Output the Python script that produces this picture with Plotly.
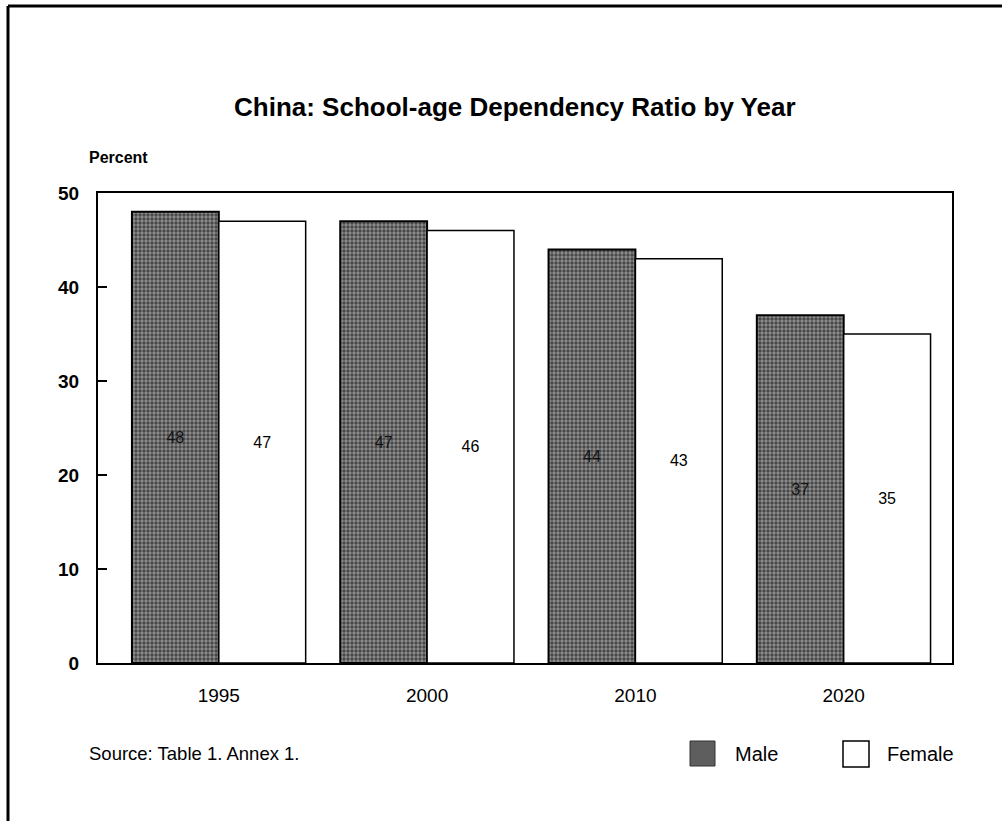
import plotly.graph_objects as go

# Data
years = ["1995", "2000", "2010", "2020"]
male = [48, 47, 44, 37]
female = [47, 46, 43, 35]
y_ticks = [0, 10, 20, 30, 40, 50]

W, H = 1002, 821
L, R, T, B = 98, 952, 193, 663  # plot area in pixels


def px(x):
    return (x - L) / (R - L)


def py(y):
    return (B - y) / (B - T)


pos = list(range(len(years)))
FONT = "Liberation Sans, Arial, sans-serif"

fig = go.Figure()
fig.add_trace(go.Bar(
    x=pos, y=male, name="Male",
    text=[str(v) for v in male],
    textposition="inside", insidetextanchor="middle",
    textfont=dict(size=16, color="#111", family=FONT),
    marker=dict(
        color="#6a6a6a",
        line=dict(color="black", width=2),
        pattern=dict(shape=".", size=4, solidity=0.55,
                     fgcolor="#000000", bgcolor="#909090"),
    ),
    showlegend=False,
))
fig.add_trace(go.Bar(
    x=pos, y=female, name="Female",
    text=[str(v) for v in female],
    textposition="inside", insidetextanchor="middle",
    textfont=dict(size=16, color="black", family=FONT),
    marker=dict(color="white", line=dict(color="black", width=1.5)),
    showlegend=False,
))

fig.update_layout(
    width=W, height=H,
    margin=dict(l=L, r=W - R, t=T, b=H - B),
    paper_bgcolor="white", plot_bgcolor="white",
    barmode="group", bargap=0.166, bargroupgap=0,
    font=dict(family=FONT, color="black"),
    uniformtext=dict(mode=False),
)
fig.update_xaxes(
    range=[-0.58, 3.52], tickvals=pos, ticktext=years,
    showgrid=False, zeroline=False,
    showline=True, linecolor="black", linewidth=2, mirror=True,
    ticks="", tickfont=dict(size=19, family=FONT),
    ticklabelstandoff=14,
)
fig.update_yaxes(
    range=[0, 50], tickvals=y_ticks,
    showgrid=False, zeroline=False,
    showline=True, linecolor="black", linewidth=2, mirror=True,
    ticks="inside", ticklen=9, tickwidth=2, tickcolor="black",
    tickfont=dict(size=19, family=FONT, weight="bold"),
    ticklabelstandoff=13,
)

annotations = [
    dict(text="<b>China: School-age Dependency Ratio by Year</b>",
         x=px(515), y=py(107), xanchor="center", yanchor="middle",
         font=dict(size=26, family=FONT)),
    dict(text="<b>Percent</b>", x=px(87), y=py(158), xanchor="left", yanchor="middle",
         font=dict(size=16)),
    dict(text="Source: Table 1. Annex 1.", x=px(87), y=py(753),
         xanchor="left", yanchor="middle", font=dict(size=18.5)),
    dict(text="Male", x=px(733), y=py(754), xanchor="left", yanchor="middle",
         font=dict(size=20)),
    dict(text="Female", x=px(885), y=py(754), xanchor="left", yanchor="middle",
         font=dict(size=20)),
]
for a in annotations:
    a.update(xref="paper", yref="paper", showarrow=False)
fig.update_layout(annotations=annotations)

shapes = [
    # legend keys
    dict(type="rect", x0=px(690), x1=px(715), y0=py(741), y1=py(766),
         fillcolor="#5e5e5e", line=dict(color="#333", width=1)),
    dict(type="rect", x0=px(843), x1=px(869), y0=py(741), y1=py(767),
         fillcolor="white", line=dict(color="black", width=1.5)),
    # outer frame edges
    dict(type="line", x0=px(8), x1=px(1010), y0=py(6), y1=py(6),
         line=dict(color="black", width=3)),
    dict(type="line", x0=px(8), x1=px(8), y0=py(6), y1=py(830),
         line=dict(color="black", width=3)),
]
for s in shapes:
    s.update(xref="paper", yref="paper")
fig.update_layout(shapes=shapes)

fig.write_html("out.html")
